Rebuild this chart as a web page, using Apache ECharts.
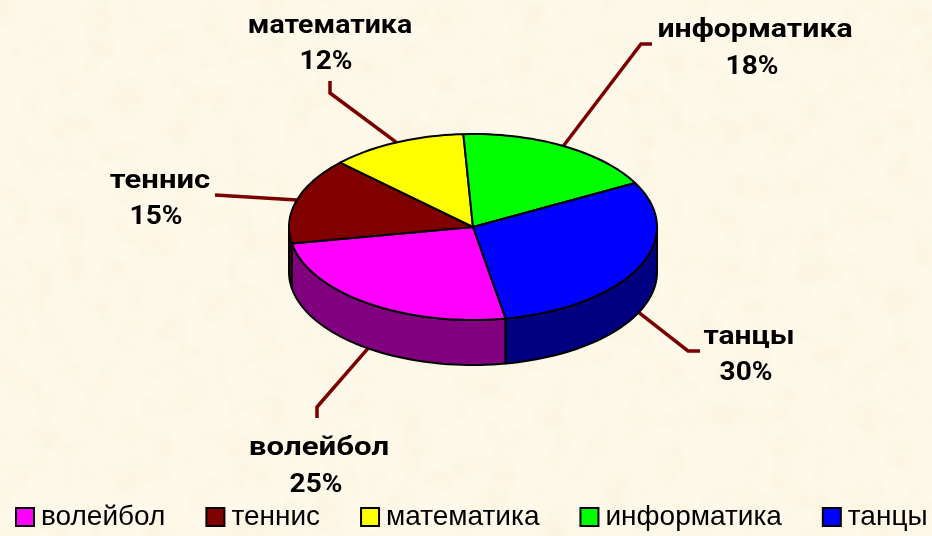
<!DOCTYPE html>
<html>
<head>
<meta charset="utf-8">
<style>
  html, body { margin: 0; padding: 0; width: 932px; height: 536px; overflow: hidden; background-color: #fef9ea; }
  body { background-image: url("data:image/svg+xml,%3Csvg xmlns='http://www.w3.org/2000/svg' width='932' height='536'%3E%3Cfilter id='n'%3E%3CfeTurbulence type='fractalNoise' baseFrequency='0.035' numOctaves='3' seed='4'/%3E%3CfeColorMatrix values='0 0 0 0 0.95 0 0 0 0 0.87 0 0 0 0 0.7 1.1 0 0 0 -0.42'/%3E%3C/filter%3E%3Crect width='932' height='536' filter='url(%23n)'/%3E%3C/svg%3E"); }
  #main { width: 932px; height: 536px; }
</style>
<script src="https://cdn.jsdelivr.net/npm/echarts@6/dist/echarts.min.js"></script>
</head>
<body>
<div id="main"></div>
<script>
const categories = ['волейбол', 'теннис', 'математика', 'информатика', 'танцы']
const shares = [25, 15, 12, 18, 30]
const topColors = ['#ff00ff', '#800000', '#ffff00', '#00ff00', '#0000ff']
const sideColors = ['#800080', '#400000', '#808000', '#008000', '#000080']

// pie geometry, angles run clockwise from the top of the ellipse
const cx = 473
const cy = 227
const rx = 184
const ry = 93
const depth = 45
const startAngle = 169.8

// name and percent label centres, then the bent part of each leader line
const namePos = [[319, 449], [160, 182], [330, 27], [755, 31], [749, 338]]
const pctPos = [[316, 486], [156, 218], [326, 63], [752, 68], [746, 374]]
const nameStretch = [1.25, 1.24, 1.14, 1.21, 1.2]
const elbows = [
  [[317, 407], [317, 418]],
  [[215, 195]],
  [[330, 93], [330, 81]],
  [[641, 44], [652, 44]],
  [[688, 351], [700, 351]]
]

const total = shares.reduce((a, b) => a + b, 0)

function pt(deg, dy) {
  const r = deg * Math.PI / 180
  return [cx + rx * Math.sin(r), cy - ry * Math.cos(r) + (dy || 0)]
}

function arc(from, to, dy) {
  const pts = []
  const n = Math.max(2, Math.ceil((to - from) / 2))
  for (let i = 0; i <= n; i++) pts.push(pt(from + (to - from) * i / n, dy))
  return pts
}

function sliceRange(index) {
  let a = startAngle
  for (let i = 0; i < index; i++) a += shares[i] / total * 360
  a = a % 360
  return [a, a + shares[index] / total * 360]
}

function makeItem(index) {
  return function() {
    const [a0, a1] = sliceRange(index)
    const children = []

    // leader line starts at the slice middle, on the rim or the lower edge
    const mid = ((a0 + a1) / 2) % 360
    const start = pt(mid, mid > 90 && mid < 270 ? depth : 0)
    children.push({
      type: 'polyline',
      shape: { points: [start].concat(elbows[index]) },
      style: { stroke: '#7a0000', lineWidth: 3.5, fill: null }
    })

    // visible wall is the front half only (90..270)
    const s0 = Math.max(a0, 90)
    const s1 = Math.min(a1, 270)
    if (s1 > s0) {
      children.push({
        type: 'polygon',
        shape: { points: arc(s0, s1, 0).concat(arc(s0, s1, depth).reverse()) },
        style: { fill: sideColors[index], stroke: '#000', lineWidth: 2, lineJoin: 'round' }
      })
    }

    children.push({
      type: 'polygon',
      shape: { points: [[cx, cy]].concat(arc(a0, a1, 0)) },
      style: { fill: topColors[index], stroke: '#000', lineWidth: 2, lineJoin: 'round' }
    })

    const labels = [
      [categories[index], namePos[index], nameStretch[index]],
      [shares[index] + '%', pctPos[index], 1.12]
    ]
    labels.forEach(([text, pos, stretch]) => {
      children.push({
        type: 'text',
        x: pos[0],
        y: pos[1],
        scaleX: stretch,
        style: {
          text: text,
          fill: '#000',
          font: 'bold 25px Roboto, sans-serif',
          align: 'center',
          verticalAlign: 'middle'
        }
      })
    })

    return { type: 'group', children: children }
  }
}

const chart = echarts.init(document.getElementById('main'))
chart.setOption({
  backgroundColor: 'transparent',
  animation: false,
  legend: {
    left: 15,
    top: 503,
    padding: 0,
    icon: 'rect',
    itemWidth: 18,
    itemHeight: 18,
    itemGap: 40,
    data: categories,
    textStyle: { color: '#000', fontSize: 28, fontFamily: 'Liberation Sans, sans-serif', padding: [5, 0, 0, 2] }
  },
  series: categories.map((name, i) => ({
    type: 'custom',
    name: name,
    coordinateSystem: 'none',
    silent: true,
    itemStyle: { color: topColors[i], borderColor: '#000', borderWidth: 2 },
    data: [shares[i]],
    renderItem: makeItem(i)
  }))
})
</script>
</body>
</html>
